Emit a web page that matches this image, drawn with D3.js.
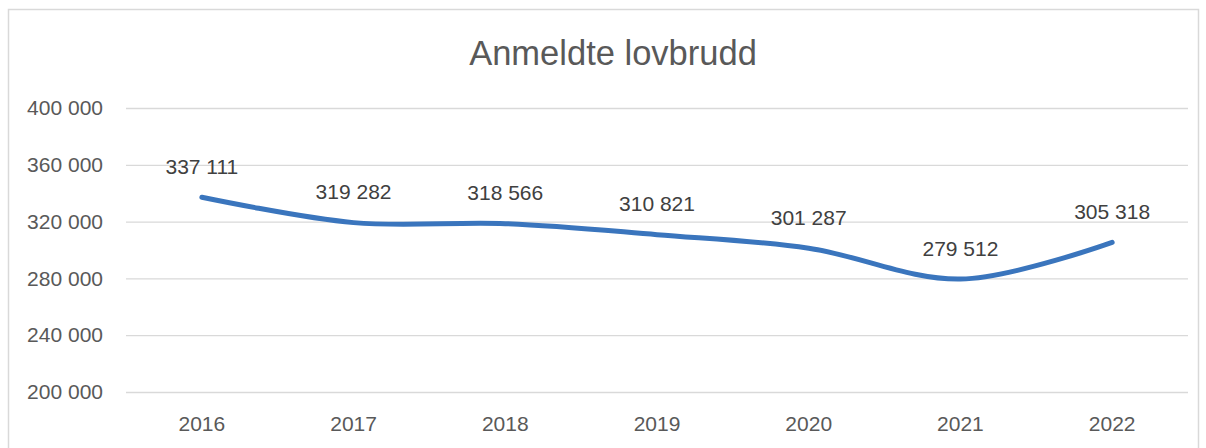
<!DOCTYPE html>
<html>
<head>
<meta charset="utf-8">
<script src="https://cdn.jsdelivr.net/npm/d3@7"></script>
<style>
  html, body { margin: 0; padding: 0; background: #fff; }
  svg { display: block; font-family: "Liberation Sans", Arial, sans-serif; }
</style>
</head>
<body>
<div id="chart"></div>
<script>
var years = ["2016", "2017", "2018", "2019", "2020", "2021", "2022"];
var reported = [337111, 319282, 318566, 310821, 301287, 279512, 305318];
var yTicks = [200000, 240000, 280000, 320000, 360000, 400000];
var chartTitle = "Anmeldte lovbrudd";

var W = 1206, H = 448;
var margin = { top: 108, right: 18, bottom: 56, left: 126 },
  width = W - margin.left - margin.right,
  height = 392 - margin.top;

var fmt = function(v) { return d3.format(",")(v).replace(/,/g, " "); };

var svg = d3.select("#chart")
  .append("svg")
  .attr("width", W)
  .attr("height", H);

// outer frame
svg.append("rect")
  .attr("x", 8.5).attr("y", 9.5)
  .attr("width", 1190).attr("height", 460)
  .attr("fill", "#fff")
  .attr("stroke", "#d9d9d9")
  .attr("stroke-width", 1.5);

svg.append("text")
  .attr("x", 613).attr("y", 65)
  .attr("text-anchor", "middle")
  .attr("font-size", 34.5)
  .attr("fill", "#595959")
  .text(chartTitle);

var g = svg.append("g")
  .attr("transform", `translate(${margin.left},${margin.top})`);

var x = d3.scaleBand()
  .domain(years)
  .range([0, width]);

var y = d3.scaleLinear()
  .domain([200000, 400000])
  .range([height, 0]);

// gridlines + y labels
var yAxis = d3.axisLeft(y)
  .tickValues(yTicks)
  .tickSize(-width)
  .tickPadding(23)
  .tickFormat(fmt);

g.append("g")
  .call(yAxis)
  .call(s => s.select(".domain").remove())
  .call(s => s.selectAll("line").attr("stroke", "#d9d9d9").attr("stroke-width", 1.3))
  .call(s => s.selectAll("text")
    .attr("font-size", 21)
    .attr("fill", "#595959")
    .attr("font-family", "Liberation Sans, Arial, sans-serif"));

var xAxis = d3.axisBottom(x)
  .tickSize(0)
  .tickPadding(24);

g.append("g")
  .attr("transform", `translate(0,${height})`)
  .call(xAxis)
  .call(s => s.select(".domain").remove())
  .call(s => s.selectAll("text")
    .attr("font-size", 21)
    .attr("fill", "#595959")
    .attr("font-family", "Liberation Sans, Arial, sans-serif"));

var pts = years.map((yr, i) => ({ year: yr, value: reported[i] }));

var line = d3.line()
  .x(d => x(d.year) + x.bandwidth() / 2)
  .y(d => y(d.value))
  .curve(d3.curveCatmullRom.alpha(0.5));

g.append("path")
  .datum(pts)
  .attr("d", line)
  .attr("fill", "none")
  .attr("stroke", "#3a75bd")
  .attr("stroke-width", 5)
  .attr("stroke-linecap", "round");

g.selectAll(".lbl")
  .data(pts)
  .enter()
  .append("text")
  .attr("class", "lbl")
  .attr("x", d => x(d.year) + x.bandwidth() / 2)
  .attr("y", d => y(d.value) - 23.5)
  .attr("text-anchor", "middle")
  .attr("font-size", 21)
  .attr("fill", "#404040")
  .text(d => fmt(d.value));
</script>
</body>
</html>
